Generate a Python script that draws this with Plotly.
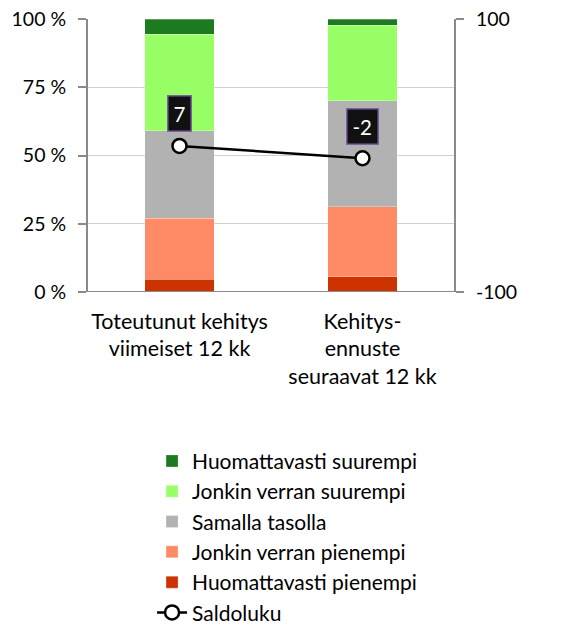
import plotly.graph_objects as go

categories = ["Toteutunut kehitys<br>viimeiset 12 kk", "Kehitys-<br>ennuste<br>seuraavat 12 kk"]
series_names = ["Huomattavasti pienempi", "Jonkin verran pienempi", "Samalla tasolla",
                "Jonkin verran suurempi", "Huomattavasti suurempi"]
huom_pienempi = [4.6, 5.5]
jonkin_pienempi = [22.4, 25.8]
samalla = [32.1, 38.8]
jonkin_suurempi = [35.3, 27.7]
huom_suurempi = [5.6, 2.2]
saldoluku = [7, -2]
left_tick_vals = [0, 25, 50, 75, 100]
left_tick_text = ["0 %", "25 %", "50 %", "75 %", "100 %"]
right_tick_vals = [-100, 100]
right_tick_text = ["-100", "100"]

colors = ["#CC3300", "#FF8B66", "#B2B2B2", "#99FF66", "#1E7A1E"]
values = [huom_pienempi, jonkin_pienempi, samalla, jonkin_suurempi, huom_suurempi]

FONT = "Lato"
FS_TEXT = 21.5
FS_LEG = 21
FS_NUM = 19.5
fig = go.Figure()
for i, (name, vals, col) in enumerate(zip(series_names, values, colors)):
    fig.add_trace(go.Bar(
        x=categories, y=vals, name=name, marker=dict(color=col, line=dict(width=0.6, color="rgba(255,255,255,0.45)")),
        legendrank=10 - i, legendgroup=name, yaxis="y"))

fig.add_trace(go.Scatter(
    x=categories, y=saldoluku, name="Saldoluku", yaxis="y2", mode="lines+markers",
    line=dict(color="black", width=2.5),
    marker=dict(symbol="circle", size=14, color="white", line=dict(color="black", width=2.5)),
    legendrank=20, legendgroup="Saldoluku"))

for c, v in zip(categories, saldoluku):
    fig.add_annotation(x=c, y=v, xref="x", yref="y2", text=str(v), showarrow=False,
                       yshift=32, bgcolor="#111111", bordercolor="#7E5FA0", borderwidth=1.5,
                       borderpad=5, font=dict(color="white", size=FS_NUM + 1, family=FONT))

fig.update_layout(
    width=569, height=626,
    margin=dict(l=88, r=115, t=19, b=334, autoexpand=False),
    barmode="stack", bargap=0.618,
    plot_bgcolor="white", paper_bgcolor="white",
    font=dict(family=FONT, size=FS_TEXT, color="black"),
    showlegend=True,
    legend=dict(x=0.175, y=-0.545, xanchor="left", yanchor="top", traceorder="grouped",
                tracegroupgap=0, font=dict(size=FS_LEG, family=FONT)),
    xaxis=dict(showline=False, ticks="", showgrid=False, ticklabelstandoff=14),
    yaxis=dict(range=[0, 100], tickvals=left_tick_vals, ticktext=left_tick_text,
               showline=True, linecolor="#8A8A8A", linewidth=2, ticks="outside", ticklen=8,
               tickcolor="#8A8A8A", tickwidth=2, gridcolor="#D0D0D0", gridwidth=1,
               zeroline=False, ticklabelstandoff=8, tickfont=dict(size=FS_NUM),
               ticklabeloverflow="allow"),
    yaxis2=dict(range=[-100, 100], overlaying="y", side="right", tickvals=right_tick_vals,
                ticktext=right_tick_text, showline=True, linecolor="#8A8A8A", linewidth=2,
                ticks="outside", ticklen=8, tickcolor="#8A8A8A", tickwidth=2, showgrid=False,
                zeroline=False, ticklabelstandoff=8, tickfont=dict(size=FS_NUM),
                ticklabeloverflow="allow"),
)
fig.add_hline(y=0, line=dict(color="#8A8A8A", width=2), layer="above")
fig.write_html("out.html", config={"displayModeBar": False},
               post_script="document.body.style.margin='0';document.body.style.overflow='hidden';")
